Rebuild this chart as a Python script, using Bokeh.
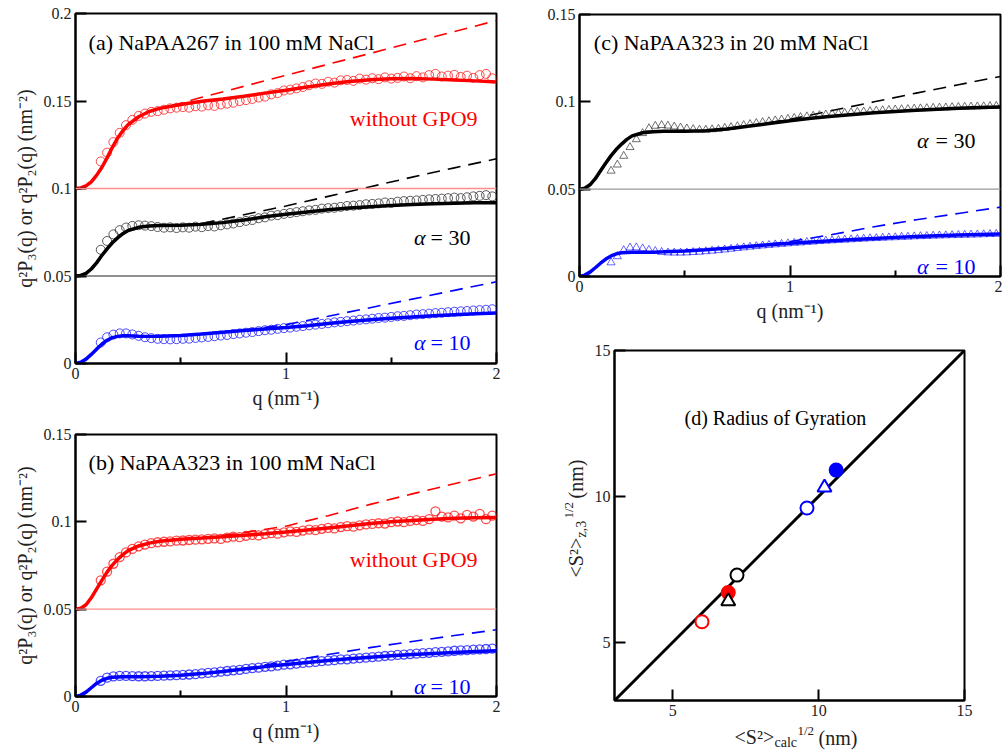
import math
from bokeh.plotting import figure
from bokeh.layouts import row, column
from bokeh.models import Span, Label, Range1d, FixedTicker, CustomJSTickFormatter
from bokeh.embed import file_html
from bokeh.resources import INLINE

FONT = "Liberation Serif"
RED = "#ff0000"
BLUE = "#0000ff"
BLACK = "#000000"
GREY = "#333333"

# ---------------- data ----------------
Q_FIT = [0, 0.025, 0.05, 0.075, 0.1, 0.125, 0.15, 0.175, 0.2, 0.225, 0.25, 0.3, 0.35, 0.4,
         0.5, 0.6, 0.7, 0.8, 0.9, 1.0, 1.1, 1.2, 1.3, 1.4, 1.5, 1.6, 1.7, 1.8, 1.9, 2.0]

Q_DATA = [0.12, 0.15, 0.18, 0.21, 0.24, 0.27, 0.30, 0.33, 0.36, 0.39,
          0.42, 0.45, 0.48, 0.51, 0.54, 0.57, 0.60, 0.63, 0.66, 0.69,
          0.72, 0.75, 0.78, 0.81, 0.84, 0.87, 0.90, 0.93, 0.96, 0.99,
          1.02, 1.05, 1.08, 1.11, 1.14, 1.17, 1.20, 1.23, 1.26, 1.29,
          1.32, 1.35, 1.38, 1.41, 1.44, 1.47, 1.50, 1.53, 1.56, 1.59,
          1.62, 1.65, 1.68, 1.71, 1.74, 1.77, 1.80, 1.83, 1.86, 1.89,
          1.92, 1.95, 1.98]

# panel (a) NaPAA267 in 100 mM NaCl
A_RED_DATA = [0.1155, 0.1205, 0.1265, 0.1318, 0.1362, 0.1392, 0.1415, 0.1428, 0.1438, 0.1442,
              0.1450, 0.1458, 0.1462, 0.1465, 0.1462, 0.1470, 0.1468, 0.1475, 0.1472, 0.1480,
              0.1485, 0.1490, 0.1500, 0.1505, 0.1512, 0.1520, 0.1525, 0.1538, 0.1545, 0.1560,
              0.1565, 0.1572, 0.1580, 0.1590, 0.1600, 0.1598, 0.1610, 0.1605, 0.1618, 0.1620,
              0.1615, 0.1628, 0.1622, 0.1630, 0.1625, 0.1635, 0.1628, 0.1632, 0.1640, 0.1630,
              0.1642, 0.1635, 0.1648, 0.1655, 0.1640, 0.1645, 0.1650, 0.1638, 0.1645, 0.1632,
              0.1648, 0.1655, 0.1630]
A_BLACK_DATA = [0.0650, 0.0700, 0.0738, 0.0762, 0.0777, 0.0786, 0.0790, 0.0788, 0.0785, 0.0780,
                0.0776, 0.0778, 0.0774, 0.0778, 0.0776, 0.0782, 0.0779, 0.0785, 0.0783, 0.0790,
                0.0795, 0.0800, 0.0808, 0.0815, 0.0820, 0.0830, 0.0835, 0.0845, 0.0848, 0.0855,
                0.0860, 0.0865, 0.0870, 0.0875, 0.0878, 0.0885, 0.0888, 0.0890, 0.0895, 0.0900,
                0.0902, 0.0905, 0.0910, 0.0912, 0.0915, 0.0920, 0.0918, 0.0925, 0.0928, 0.0930,
                0.0932, 0.0935, 0.0938, 0.0940, 0.0942, 0.0945, 0.0948, 0.0945, 0.0950, 0.0955,
                0.0958, 0.0962, 0.0955]
A_BLUE_DATA = [0.0120, 0.0150, 0.0165, 0.0172, 0.0172, 0.0166, 0.0158, 0.0150, 0.0145, 0.0141,
               0.0139, 0.0138, 0.0139, 0.0141, 0.0142, 0.0146, 0.0149, 0.0152, 0.0156, 0.0160,
               0.0163, 0.0168, 0.0172, 0.0176, 0.0180, 0.0185, 0.0190, 0.0193, 0.0198, 0.0202,
               0.0205, 0.0210, 0.0214, 0.0218, 0.0222, 0.0226, 0.0230, 0.0235, 0.0238, 0.0242,
               0.0245, 0.0250, 0.0252, 0.0256, 0.0260, 0.0262, 0.0266, 0.0270, 0.0272, 0.0276,
               0.0280, 0.0282, 0.0285, 0.0288, 0.0290, 0.0293, 0.0296, 0.0298, 0.0300, 0.0303,
               0.0305, 0.0307, 0.0310]
A_RED_FIT = [0.1000, 0.1003, 0.1015, 0.1038, 0.1075, 0.1120, 0.1175, 0.1235, 0.1288, 0.1330,
             0.1365, 0.1410, 0.1440, 0.1458, 0.1480, 0.1498, 0.1512, 0.1527, 0.1545, 0.1562,
             0.1580, 0.1597, 0.1611, 0.1621, 0.1627, 0.1628, 0.1625, 0.1620, 0.1615, 0.1608]
A_BLACK_FIT = [0.0500, 0.0503, 0.0515, 0.0540, 0.0575, 0.0617, 0.0655, 0.0690, 0.0718, 0.0742,
               0.0760, 0.0778, 0.0786, 0.0789, 0.0790, 0.0795, 0.0805, 0.0820, 0.0838, 0.0853,
               0.0866, 0.0878, 0.0888, 0.0896, 0.0903, 0.0909, 0.0913, 0.0916, 0.0918, 0.0919]
A_BLUE_FIT = [0.0000, 0.0007, 0.0025, 0.0052, 0.0082, 0.0110, 0.0133, 0.0148, 0.0155, 0.0158,
              0.0158, 0.0156, 0.0155, 0.0156, 0.0160, 0.0168, 0.0178, 0.0188, 0.0197, 0.0206,
              0.0216, 0.0228, 0.0240, 0.0250, 0.0258, 0.0266, 0.0273, 0.0279, 0.0284, 0.0288]
A_RED_DASH_Q = [0.45, 0.6, 0.8, 1.0, 1.2, 1.4, 1.6, 1.8, 2.0]
A_RED_DASH = [0.1470, 0.1521, 0.1584, 0.1647, 0.1710, 0.1772, 0.1835, 0.1897, 0.1960]
A_BLACK_DASH_Q = [0.5, 0.6, 0.8, 1.0, 1.2, 1.4, 1.6, 1.8, 2.0]
A_BLACK_DASH = [0.0790, 0.0800, 0.0850, 0.0900, 0.0955, 0.1010, 0.1065, 0.1118, 0.1170]
A_BLUE_DASH_Q = [0.7, 0.8, 1.0, 1.2, 1.4, 1.6, 1.8, 2.0]
A_BLUE_DASH = [0.0178, 0.0190, 0.0222, 0.0270, 0.0319, 0.0368, 0.0418, 0.0467]
A_BASELINES = [0.1, 0.05]

# panel (b) NaPAA323 in 100 mM NaCl
B_RED_DATA = [0.0665, 0.0715, 0.0760, 0.0798, 0.0825, 0.0845, 0.0860, 0.0870, 0.0878, 0.0883,
              0.0886, 0.0888, 0.0892, 0.0893, 0.0896, 0.0898, 0.0900, 0.0903, 0.0905, 0.0902,
              0.0910, 0.0915, 0.0912, 0.0920, 0.0925, 0.0922, 0.0930, 0.0935, 0.0932, 0.0940,
              0.0945, 0.0942, 0.0950, 0.0955, 0.0952, 0.0960, 0.0965, 0.0962, 0.0970, 0.0975,
              0.0972, 0.0980, 0.0985, 0.0988, 0.0992, 0.0990, 0.0998, 0.1002, 0.0998, 0.1005,
              0.1010, 0.1005, 0.1015, 0.1060, 0.1030, 0.1025, 0.1035, 0.1020, 0.1040, 0.1030,
              0.1045, 0.1015, 0.1035]
B_BLUE_DATA = [0.0090, 0.0108, 0.0115, 0.0118, 0.0118, 0.0117, 0.0116, 0.0116, 0.0117, 0.0118,
               0.0119, 0.0121, 0.0122, 0.0124, 0.0126, 0.0128, 0.0132, 0.0135, 0.0138, 0.0142,
               0.0146, 0.0150, 0.0153, 0.0158, 0.0162, 0.0165, 0.0170, 0.0173, 0.0177, 0.0182,
               0.0184, 0.0188, 0.0192, 0.0195, 0.0198, 0.0202, 0.0205, 0.0208, 0.0212, 0.0213,
               0.0217, 0.0220, 0.0222, 0.0226, 0.0228, 0.0232, 0.0234, 0.0238, 0.0240, 0.0243,
               0.0245, 0.0248, 0.0250, 0.0254, 0.0256, 0.0258, 0.0262, 0.0264, 0.0266, 0.0268,
               0.0270, 0.0272, 0.0274]
B_RED_FIT = [0.0500, 0.0505, 0.0525, 0.0565, 0.0615, 0.0665, 0.0712, 0.0752, 0.0785, 0.0812,
             0.0835, 0.0862, 0.0878, 0.0889, 0.0900, 0.0907, 0.0915, 0.0923, 0.0932, 0.0942,
             0.0953, 0.0965, 0.0977, 0.0990, 0.1000, 0.1008, 0.1015, 0.1020, 0.1023, 0.1025]
B_BLUE_FIT = [0.0000, 0.0008, 0.0025, 0.0050, 0.0075, 0.0093, 0.0104, 0.0110, 0.0112, 0.0113,
              0.0113, 0.0113, 0.0114, 0.0116, 0.0122, 0.0131, 0.0143, 0.0157, 0.0171, 0.0183,
              0.0195, 0.0206, 0.0216, 0.0225, 0.0233, 0.0240, 0.0246, 0.0252, 0.0257, 0.0262]
B_RED_DASH_Q = [0.5, 0.6, 0.8, 1.0, 1.2, 1.4, 1.6, 1.8, 2.0]
B_RED_DASH = [0.0900, 0.0908, 0.0938, 0.0975, 0.1035, 0.1100, 0.1160, 0.1218, 0.1275]
B_BLUE_DASH_Q = [0.7, 0.8, 1.0, 1.2, 1.4, 1.6, 1.8, 2.0]
B_BLUE_DASH = [0.0143, 0.0160, 0.0200, 0.0240, 0.0280, 0.0315, 0.0349, 0.0382]
B_BASELINES = [0.05]

# panel (c) NaPAA323 in 20 mM NaCl
C_BLACK_DATA = [0.0605, 0.0640, 0.0690, 0.0740, 0.0785, 0.0820, 0.0848, 0.0862, 0.0866,
                0.0863, 0.0858, 0.0852, 0.0847, 0.0843, 0.0840, 0.0840, 0.0842, 0.0845, 0.0850,
                0.0855, 0.0860, 0.0866, 0.0872, 0.0878, 0.0883, 0.0888, 0.0893, 0.0898, 0.0902,
                0.0907, 0.0912, 0.0916, 0.0920, 0.0923, 0.0927, 0.0930, 0.0933, 0.0936, 0.0939,
                0.0942, 0.0944, 0.0946, 0.0949, 0.0951, 0.0953, 0.0955, 0.0957, 0.0958, 0.0960,
                0.0962, 0.0963, 0.0965, 0.0966, 0.0967, 0.0969, 0.0970, 0.0971, 0.0972, 0.0973,
                0.0974, 0.0975, 0.0976]
C_BLUE_DATA = [0.0080, 0.0115, 0.0150, 0.0165, 0.0166, 0.0160, 0.0152, 0.0145, 0.0140,
               0.0137, 0.0136, 0.0136, 0.0137, 0.0139, 0.0141, 0.0144, 0.0147, 0.0150, 0.0154,
               0.0158, 0.0162, 0.0166, 0.0170, 0.0173, 0.0177, 0.0180, 0.0183, 0.0186, 0.0189,
               0.0192, 0.0194, 0.0197, 0.0199, 0.0202, 0.0204, 0.0206, 0.0208, 0.0210, 0.0212,
               0.0214, 0.0216, 0.0218, 0.0219, 0.0221, 0.0223, 0.0224, 0.0226, 0.0227, 0.0229,
               0.0230, 0.0231, 0.0233, 0.0234, 0.0235, 0.0236, 0.0237, 0.0238, 0.0239, 0.0240,
               0.0241, 0.0242, 0.0243]
C_BLACK_FIT = [0.0500, 0.0505, 0.0525, 0.0560, 0.0605, 0.0650, 0.0692, 0.0728, 0.0758, 0.0785,
               0.0805, 0.0823, 0.0829, 0.0831, 0.0832, 0.0835, 0.0845, 0.0860, 0.0876, 0.0892,
               0.0906, 0.0918, 0.0928, 0.0937, 0.0945, 0.0952, 0.0958, 0.0963, 0.0967, 0.0970]
C_BLUE_FIT = [0.0000, 0.0008, 0.0025, 0.0050, 0.0076, 0.0100, 0.0118, 0.0130, 0.0136, 0.0138,
              0.0139, 0.0139, 0.0139, 0.0141, 0.0146, 0.0153, 0.0162, 0.0172, 0.0182, 0.0190,
              0.0198, 0.0205, 0.0212, 0.0218, 0.0224, 0.0229, 0.0234, 0.0238, 0.0241, 0.0244]
C_BLACK_DASH_Q = [0.8, 1.0, 1.2, 1.4, 1.6, 1.8, 2.0]
C_BLACK_DASH = [0.0862, 0.0900, 0.0950, 0.1000, 0.1050, 0.1098, 0.1145]
C_BLUE_DASH_Q = [0.8, 1.0, 1.2, 1.4, 1.6, 1.8, 2.0]
C_BLUE_DASH = [0.0172, 0.0200, 0.0240, 0.0285, 0.0325, 0.0361, 0.0397]
C_BASELINES = [0.05]

# panel (d) radius of gyration
D_CALC = [6.0, 6.9, 6.9, 7.2, 9.6, 10.2, 10.6]
D_Z3 = [5.7, 6.7, 6.4, 7.3, 9.6, 10.3, 10.9]
D_MARKER = ["circle", "circle", "triangle", "circle", "circle", "triangle", "circle"]
D_COLOR = [RED, RED, BLACK, BLACK, BLUE, BLUE, BLUE]
D_FILLED = [False, True, False, False, False, False, True]
D_DIAG = [3, 15]


def yfmt():
    return CustomJSTickFormatter(code="return String(Math.round(tick*1000)/1000);")


def make_fig(width, height, left, right, top, bottom, xr, yr, xticks, xminor, yticks):
    p = figure(width=width, height=height, output_backend="svg", toolbar_location=None,
               x_range=Range1d(*xr), y_range=Range1d(*yr),
               min_border_left=left, min_border_right=right,
               min_border_top=top, min_border_bottom=bottom)
    p.xgrid.visible = False
    p.ygrid.visible = False
    p.outline_line_color = "black"
    p.outline_line_width = 2
    p.background_fill_color = "white"
    p.border_fill_color = "white"
    for ax in (p.xaxis[0], p.yaxis[0]):
        ax.axis_line_width = 2
        ax.axis_line_color = "black"
        ax.major_tick_in = 11
        ax.major_tick_out = 0
        ax.major_tick_line_width = 2
        ax.minor_tick_in = 6
        ax.minor_tick_out = 0
        ax.minor_tick_line_width = 2
        ax.major_label_text_font = FONT
        ax.major_label_text_font_size = "16px"
        ax.major_label_text_color = "#222222"
        ax.major_label_standoff = 4
        ax.axis_label_text_font = FONT
        ax.axis_label_text_font_size = "20px"
        ax.axis_label_text_font_style = "normal"
        ax.axis_label_text_color = "#222222"
        ax.axis_label_standoff = 5
    p.xaxis[0].ticker = FixedTicker(ticks=xticks, minor_ticks=xminor)
    p.yaxis[0].ticker = FixedTicker(ticks=yticks)
    p.yaxis[0].minor_tick_line_color = None
    return p


def blank_fig(width, height, xr, yr, left=0, right=0, top=0, bottom=0):
    p = figure(width=width, height=height, output_backend="svg", toolbar_location=None,
               x_range=Range1d(*xr), y_range=Range1d(*yr), x_axis_type=None, y_axis_type=None,
               min_border_left=left, min_border_right=right,
               min_border_top=top, min_border_bottom=bottom)
    p.xgrid.visible = False
    p.ygrid.visible = False
    p.outline_line_color = None
    p.background_fill_color = "white"
    p.border_fill_color = "white"
    return p


def add_text(p, x, y, text, color=BLACK, size="22px", align="left", style="normal"):
    p.add_layout(Label(x=x, y=y, text=text, text_font=FONT, text_font_size=size,
                       text_color=color, text_align=align, text_baseline="alphabetic",
                       text_font_style=style))


def alpha_label(p, x_alpha, x_end, y, num, color):
    add_text(p, x_alpha, y, "\u03b1", color=color, align="right", style="italic")
    add_text(p, x_end, y, "= " + num, color=color, align="right")


def piece(p, x, y, text, size, angle=0.0):
    p.add_layout(Label(x=x, y=y, text=text, text_font=FONT, text_font_size=size,
                       text_color="#222222", text_align="left", text_baseline="middle",
                       angle=angle, angle_units="rad"))


YLABEL = "q\u00b2P\u2083(q) or q\u00b2P\u2082(q) (nm\u207b\u00b2)"
XLABEL = "q (nm\u207b\u00b9)"

# ---------------- panel (a) ----------------
pa = make_fig(520, 420, 75, 24, 13, 57, (0, 2), (0, 0.2), [0, 1, 2], [0.5, 1.5],
              [0, 0.05, 0.1, 0.15, 0.2])
pa.yaxis[0].formatter = yfmt()
pa.xaxis[0].axis_label = XLABEL
pa.yaxis[0].axis_label = YLABEL
pa.add_layout(Span(location=A_BASELINES[0], dimension="width", line_color="#ff8c8c", line_width=1.3))
pa.add_layout(Span(location=A_BASELINES[1], dimension="width", line_color="#222222", line_width=1))
pa.line(A_RED_DASH_Q, A_RED_DASH, line_color=RED, line_width=1.6, line_dash="13 8")
pa.line(A_BLACK_DASH_Q, A_BLACK_DASH, line_color=BLACK, line_width=1.6, line_dash="13 8")
pa.line(A_BLUE_DASH_Q, A_BLUE_DASH, line_color=BLUE, line_width=1.6, line_dash="13 8")
pa.scatter(Q_DATA, A_RED_DATA, marker="circle", size=9, fill_color=None, line_color=RED,
           line_width=1, line_alpha=0.7)
pa.scatter(Q_DATA, A_BLACK_DATA, marker="circle", size=9, fill_color=None, line_color=GREY,
           line_width=1, line_alpha=0.8)
pa.scatter(Q_DATA, A_BLUE_DATA, marker="circle", size=9, fill_color=None, line_color=BLUE,
           line_width=1, line_alpha=0.7)
pa.line(Q_FIT, A_RED_FIT, line_color=RED, line_width=3.5)
pa.line(Q_FIT, A_BLACK_FIT, line_color=BLACK, line_width=3.5)
pa.line(Q_FIT, A_BLUE_FIT, line_color=BLUE, line_width=3.5)
add_text(pa, 0.062, 0.1834, "(a) NaPAA267 in 100 mM NaCl")
add_text(pa, 1.91, 0.1398, "without GPO9", color=RED, align="right")
alpha_label(pa, 1.663, 1.876, 0.0718, "30", BLACK)
alpha_label(pa, 1.663, 1.876, 0.0118, "10", BLUE)

# ---------------- panel (b) ----------------
pb = make_fig(520, 331, 75, 24, 14, 55, (0, 2), (0, 0.15), [0, 1, 2], [0.5, 1.5],
              [0, 0.05, 0.1, 0.15])
pb.yaxis[0].formatter = yfmt()
pb.xaxis[0].axis_label = XLABEL
pb.yaxis[0].axis_label = YLABEL
pb.add_layout(Span(location=B_BASELINES[0], dimension="width", line_color="#ff8c8c", line_width=1.3))
pb.line(B_RED_DASH_Q, B_RED_DASH, line_color=RED, line_width=1.6, line_dash="13 8")
pb.line(B_BLUE_DASH_Q, B_BLUE_DASH, line_color=BLUE, line_width=1.6, line_dash="13 8")
pb.scatter(Q_DATA, B_RED_DATA, marker="circle", size=9, fill_color=None, line_color=RED,
           line_width=1.3, line_alpha=0.7)
pb.scatter(Q_DATA, B_BLUE_DATA, marker="circle", size=9, fill_color=None, line_color=BLUE,
           line_width=1.3, line_alpha=0.7)
pb.line(Q_FIT, B_RED_FIT, line_color=RED, line_width=3.5)
pb.line(Q_FIT, B_BLUE_FIT, line_color=BLUE, line_width=3.5)
add_text(pb, 0.062, 0.1341, "(b) NaPAA323 in 100 mM NaCl")
add_text(pb, 1.91, 0.0782, "without GPO9", color=RED, align="right")
alpha_label(pb, 1.663, 1.876, 0.0057, "10", BLUE)

# ---------------- panel (c) ----------------
pc = make_fig(482, 336, 59, 2, 14, 60, (0, 2), (0, 0.15), [0, 1, 2], [0.5, 1.5],
              [0, 0.05, 0.1, 0.15])
pc.yaxis[0].formatter = yfmt()
pc.xaxis[0].axis_label = XLABEL
pc.add_layout(Span(location=C_BASELINES[0], dimension="width", line_color="#999999", line_width=1.3))
pc.line(C_BLACK_DASH_Q, C_BLACK_DASH, line_color=BLACK, line_width=1.6, line_dash="13 8")
pc.line(C_BLUE_DASH_Q, C_BLUE_DASH, line_color=BLUE, line_width=1.6, line_dash="13 8")
pc.scatter(Q_DATA[1:], C_BLACK_DATA, marker="triangle", size=8, fill_color=None, line_color=GREY,
           line_width=1, line_alpha=0.7)
pc.scatter(Q_DATA[1:], C_BLUE_DATA, marker="triangle", size=8, fill_color=None, line_color=BLUE,
           line_width=1, line_alpha=0.6)
pc.line(Q_FIT, C_BLACK_FIT, line_color=BLACK, line_width=3.5)
pc.line(Q_FIT, C_BLUE_FIT, line_color=BLUE, line_width=3.5)
add_text(pc, 0.068, 0.1341, "(c) NaPAA323 in 20 mM NaCl")
alpha_label(pc, 1.658, 1.881, 0.0778, "30", BLACK)
alpha_label(pc, 1.658, 1.881, 0.0057, "10", BLUE)

# ---------------- panel (d) ----------------
pd = make_fig(412, 388, 24, 38, 14, 24, (3, 15), (3, 15), [5, 10, 15], [], [5, 10, 15])
pd.xaxis[0].minor_tick_line_color = None
pd.line(D_DIAG, D_DIAG, line_color=BLACK, line_width=3)
for xv, yv, mk, col, filled in zip(D_CALC, D_Z3, D_MARKER, D_COLOR, D_FILLED):
    pd.scatter([xv], [yv], marker=mk, size=13 if mk == "circle" else 14,
               fill_color=col if filled else "white", line_color=col, line_width=2)
add_text(pd, 5.4, 12.7, "(d) Radius of Gyration", size="20px")

# y-axis title of (d): <S2>_z,3^1/2 (nm)  (page pixel coordinates)
dy = blank_fig(70, 415, (520, 590), (751, 336))
piece(dy, 575, 577, "<S\u00b2>", "20px", angle=math.pi / 2)
piece(dy, 581, 537, "z,3", "14px", angle=math.pi / 2)
piece(dy, 568, 518, "1/2", "13px", angle=math.pi / 2)
piece(dy, 575, 498, "(nm)", "20px", angle=math.pi / 2)

# x-axis title of (d): <S2>_calc^1/2 (nm)
dx = blank_fig(412, 27, (614, 964), (751, 724), left=24, right=38)
piece(dx, 734, 736, "<S\u00b2>", "20px")
piece(dx, 774, 742, "calc", "14px")
piece(dx, 797, 730, "1/2", "13px")
piece(dx, 818, 737, "(nm)", "20px")

right = column(row(pc), row(dy, column(pd, dx)))
layout = row(column(pa, pb), right)
open("out.html", "w").write(file_html(layout, INLINE))
